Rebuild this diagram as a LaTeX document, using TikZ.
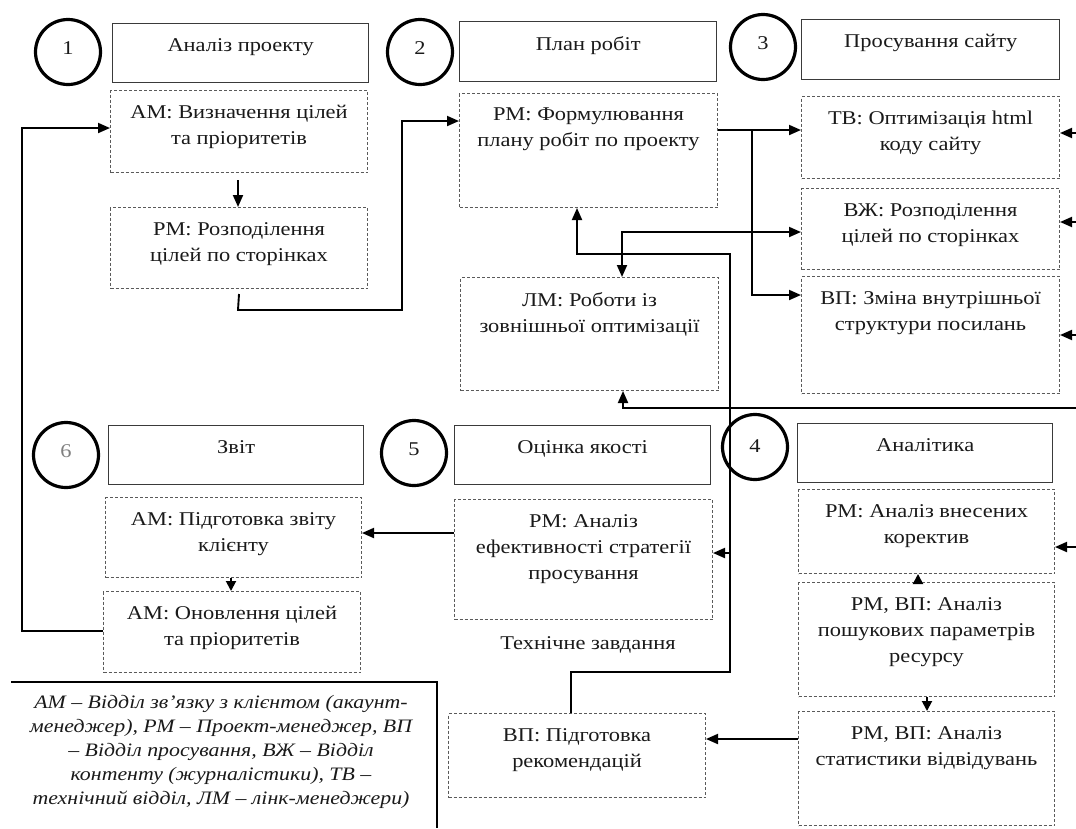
\documentclass[tikz,border=0pt]{standalone}
\usepackage{fontspec}
\setmainfont[FakeStretch=1.15]{Liberation Serif}
\usetikzlibrary{arrows.meta}
\definecolor{txtc}{HTML}{1A1A1A}
\definecolor{boxc}{HTML}{3A3A3A}
\definecolor{dashc}{HTML}{5A5A5A}
\tikzset{
  titlebox/.style={draw=boxc, line width=1.3pt, anchor=north west, inner sep=0pt},
  dbox/.style={draw=dashc, line width=1pt, dash pattern=on 3pt off 2pt, anchor=north west, inner sep=0pt},
  txt/.style={anchor=north, inner sep=0pt, align=center, text=txtc, font=\rmfamily\fontsize{19.5}{26}\selectfont},
  numcirc/.style={draw=black, line width=3.2pt, circle, minimum size=65pt, inner sep=0pt},
  num/.style={inner sep=0pt, text=txtc, font=\rmfamily\fontsize{19.5}{26}\selectfont},
  arr/.style={draw=black, line width=1.9pt, -{Triangle[length=12pt,width=10pt]}},
  arrb/.style={draw=black, line width=1.9pt, {Triangle[length=12pt,width=10pt]}-{Triangle[length=12pt,width=10pt]}},
  smallarr/.style={draw=black, line width=1.9pt, -{Triangle[length=10pt,width=10pt]}},
  legend/.style={inner sep=0pt, align=center, text=txtc, font=\rmfamily\fontsize{19}{24}\selectfont\itshape}
}
\begin{document}
\begin{tikzpicture}[x=1pt,y=-1pt]
\useasboundingbox[fill=white] (0,0) rectangle (1076,828);

% number circles
\node[numcirc] (C1) at (68,52) {};
\node[numcirc] (C2) at (420,52) {};
\node[numcirc] (C3) at (763,47) {};
\node[numcirc] (C4) at (755,447) {};
\node[numcirc] (C5) at (414,453) {};
\node[numcirc] (C6) at (66,455) {};
\node[num] (n1) at ([yshift=4pt]C1.center) {1};
\node[num] (n2) at ([yshift=4pt]C2.center) {2};
\node[num] (n3) at ([yshift=4pt]C3.center) {3};
\node[num] (n4) at ([yshift=1pt]C4.center) {4};
\node[num] (n5) at ([yshift=4pt]C5.center) {5};
\node[num, text=gray] (n6) at ([yshift=4pt]C6.center) {6};

% title boxes
\node[titlebox, minimum width=256pt, minimum height=59pt] (T1) at (112,23) {};
\node[titlebox, minimum width=257pt, minimum height=60pt] (T2) at (459,21) {};
\node[titlebox, minimum width=258pt, minimum height=60pt] (T3) at (801,19) {};
\node[titlebox, minimum width=255pt, minimum height=59pt] (T6) at (108,425) {};
\node[titlebox, minimum width=256pt, minimum height=59pt] (T5) at (454,425) {};
\node[titlebox, minimum width=255pt, minimum height=59pt] (T4) at (797,423) {};
\node[txt] (T1t) at ([yshift=-15pt]T1.north) {Аналіз проекту};
\node[txt] (T2t) at ([yshift=-15pt]T2.north) {План робіт};
\node[txt] (T3t) at ([yshift=-15pt]T3.north) {Просування сайту};
\node[txt] (T6t) at ([yshift=-15pt]T6.north) {Звіт};
\node[txt] (T5t) at ([yshift=-15pt]T5.north) {Оцінка якості};
\node[txt] (T4t) at ([yshift=-15pt]T4.north) {Аналітика};

% dashed boxes
\node[dbox, minimum width=257pt, minimum height=82pt] (D1) at (110,90) {};
\node[dbox, minimum width=257pt, minimum height=81pt] (D2) at (110,207) {};
\node[dbox, minimum width=258pt, minimum height=114pt] (D3) at (459,93) {};
\node[dbox, minimum width=258pt, minimum height=113pt] (D4) at (460,277) {};
\node[dbox, minimum width=258pt, minimum height=82pt] (D5) at (801,96) {};
\node[dbox, minimum width=258pt, minimum height=81pt] (D6) at (801,188) {};
\node[dbox, minimum width=258pt, minimum height=117pt] (D7) at (801,276) {};
\node[dbox, minimum width=256pt, minimum height=80pt] (D8) at (105,497) {};
\node[dbox, minimum width=257pt, minimum height=81pt] (D9) at (103,591) {};
\node[dbox, minimum width=258pt, minimum height=120pt] (D10) at (454,499) {};
\node[dbox, minimum width=257pt, minimum height=84pt] (D11) at (448,713) {};
\node[dbox, minimum width=256pt, minimum height=84pt] (D12) at (798,489) {};
\node[dbox, minimum width=256pt, minimum height=114pt] (D13) at (798,582) {};
\node[dbox, minimum width=256pt, minimum height=114pt] (D14) at (798,711) {};

\node[txt] (D1t) at ([yshift=-15pt]D1.north) {АМ: Визначення цілей\\та пріоритетів};
\node[txt] (D2t) at ([yshift=-15pt]D2.north) {РМ: Розподілення\\цілей по сторінках};
\node[txt] (D3t) at ([yshift=-15pt]D3.north) {РМ: Формулювання\\плану робіт по проекту};
\node[txt] (D4t) at ([yshift=-15pt]D4.north) {ЛМ: Роботи із\\зовнішньої оптимізації};
\node[txt] (D5t) at ([yshift=-15pt]D5.north) {ТВ: Оптимізація html\\коду сайту};
\node[txt] (D6t) at ([yshift=-15pt]D6.north) {ВЖ: Розподілення\\цілей по сторінках};
\node[txt] (D7t) at ([yshift=-15pt]D7.north) {ВП: Зміна внутрішньої\\структури посилань};
\node[txt] (D8t) at ([yshift=-15pt]D8.north) {АМ: Підготовка звіту\\клієнту};
\node[txt] (D9t) at ([yshift=-15pt]D9.north) {АМ: Оновлення цілей\\та пріоритетів};
\node[txt] (D10t) at ([yshift=-15pt]D10.north) {РМ: Аналіз\\ефективності стратегії\\просування};
\node[txt] (D11t) at ([yshift=-15pt]D11.north) {ВП: Підготовка\\рекомендацій};
\node[txt] (D12t) at ([yshift=-15pt]D12.north) {РМ: Аналіз внесених\\коректив};
\node[txt] (D13t) at ([yshift=-15pt]D13.north) {РМ, ВП: Аналіз\\пошукових параметрів\\ресурсу};
\node[txt] (D14t) at ([yshift=-15pt]D14.north) {РМ, ВП: Аналіз\\статистики відвідувань};

% free text
\node[txt, anchor=center] (tz) at (588,645) {Технічне завдання};

% legend
\draw[draw=black, line width=1.1pt] (11,682) coordinate (L1) -- (437,682) coordinate (L2) -- (437,828) coordinate (L3);
\node[legend] (L) at (221,752) {АМ – Відділ зв’язку з клієнтом (акаунт-\\менеджер), РМ – Проект-менеджер, ВП\\– Відділ просування, ВЖ – Відділ\\контенту (журналістики), ТВ –\\технічний відділ, ЛМ – лінк-менеджери)};

% connectors
\coordinate (a1) at (238,180);
\draw[arr] (a1) -- (a1 |- D2.north);

\coordinate (b1) at (238,310);
\coordinate (b2) at (402,310);
\coordinate (b3) at (402,121);
\draw[arr] ([yshift=-5pt]D2.south) -- (b1) -- (b2) -- (b3) -- (b3 -| D3.west);

\coordinate (c1) at (22,631);
\coordinate (c2) at (22,128);
\draw[arr] (D9.west |- c1) -- (c1) -- (c2) -- (c2 -| D1.west);

\coordinate (j1) at (752,130);
\coordinate (j2) at (752,295);
\draw[arr] (j1 -| D3.east) -- (j1 -| D5.west);
\draw[arr] (j1) -- (j2) -- (j2 -| D7.west);

\coordinate (j3) at (622,232);
\draw[arrb] (j3 |- D4.north) -- (j3) -- (j3 -| D6.west);

\coordinate (k1) at (571,672);
\coordinate (k2) at (730,672);
\coordinate (k3) at (730,254);
\coordinate (k4) at (577,254);
\draw[arr] (k1 |- D11.north) -- (k1) -- (k2) -- (k3) -- (k4) -- (k4 |- D3.south);
\coordinate (k5) at (730,553);
\draw[arr] (k5) -- (k5 -| D10.east);

\coordinate (r1) at (1076,133);
\coordinate (r2) at (1076,222);
\coordinate (r3) at (1076,335);
\coordinate (r4) at (1076,547);
\draw[arr] (r1) -- (r1 -| D5.east);
\draw[arr] (r2) -- (r2 -| D6.east);
\draw[arr] (r3) -- (r3 -| D7.east);
\draw[arr] (r4) -- (r4 -| D12.east);

\coordinate (r5) at (1076,408);
\coordinate (k6) at (623,408);
\draw[arr] (r5) -- (k6) -- (k6 |- D4.south);

\coordinate (m1) at (918,0);
\draw[smallarr] (m1 |- D13.north) -- (m1 |- D12.south);
\coordinate (m2) at (927,0);
\draw[smallarr] (m2 |- D13.south) -- (m2 |- D14.north);
\coordinate (m3) at (750,739);
\draw[arr] (m3 -| D14.west) -- (m3 -| D11.east);
\coordinate (m4) at (400,533);
\draw[arr] (m4 -| D10.west) -- (m4 -| D8.east);
\coordinate (m5) at (231,0);
\draw[smallarr] (m5 |- D8.south) -- (m5 |- D9.north);
\end{tikzpicture}
\end{document}
